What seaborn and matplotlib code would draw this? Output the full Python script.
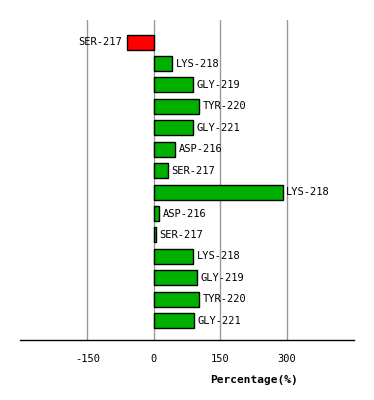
import matplotlib
matplotlib.use('Agg')
from matplotlib import pyplot as plt
import seaborn as sns
import numpy as np
import pandas as pd

# residues, top to bottom
residues = ['SER-217', 'LYS-218', 'GLY-219', 'TYR-220', 'GLY-221', 'ASP-216', 'SER-217',
            'LYS-218', 'ASP-216', 'SER-217', 'LYS-218', 'GLY-219', 'TYR-220', 'GLY-221']
percent = [-61, 41, 87, 102, 87, 48, 32, 290, 12, 5, 89, 98, 102, 91]
xticks = [-150, 0, 150, 300]

df = pd.DataFrame({'pos': [str(i) for i in range(len(residues))],
                   'residue': residues,
                   'value': percent})
df['sign'] = np.where(df['value'] < 0, 'neg', 'pos')

sns.set_style('white')
plt.rcParams['font.family'] = ['DejaVu Sans Mono']

fig = plt.figure(figsize=(3.74, 4.0), dpi=100)
ax = fig.add_axes([20 / 374, 60 / 400, 334 / 374, 320 / 400])

sns.barplot(data=df, x='value', y='pos', hue='sign', orient='h',
            palette={'neg': '#ff0000', 'pos': '#00b000'}, saturation=1, width=0.7,
            edgecolor='black', linewidth=1, legend=False, dodge=False, ax=ax, zorder=3)

for i, (r, v) in enumerate(zip(residues, percent)):
    if v < 0:
        ax.text(v - 10, i, r, ha='right', va='center', fontsize=7.5, color='black')
    else:
        ax.text(v + 8, i, r, ha='left', va='center', fontsize=7.5, color='black')

ax.set_xlim(-302, 451)
ax.set_ylim(13.9, -1.03)
ax.set_xticks(xticks)
ax.set_xticklabels([str(t) for t in xticks], fontsize=7.5, color='black')
ax.set_yticks([])
ax.set_ylabel('')
ax.grid(axis='x', color='#999999', linewidth=1, zorder=0)
ax.tick_params(axis='x', length=0, pad=10)
for s in ['top', 'left', 'right']:
    ax.spines[s].set_visible(False)
ax.spines['bottom'].set_color('black')
ax.spines['bottom'].set_linewidth(1)
ax.set_xlabel('Percentage(%)', fontsize=8, fontweight='bold', color='black')
ax.xaxis.set_label_coords(0.70, -0.11)

fig.savefig('out.png', dpi=100)
